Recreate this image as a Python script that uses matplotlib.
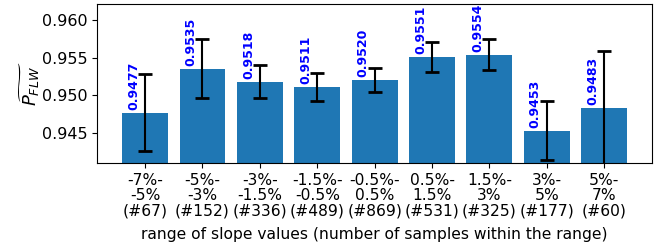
import numpy as np
import matplotlib
matplotlib.use("Agg")
import matplotlib.pyplot as plt

# ranges of slope values and sample counts
ranges = ["-7%-\n-5%", "-5%-\n-3%", "-3%-\n-1.5%", "-1.5%-\n-0.5%", "-0.5%-\n0.5%",
          "0.5%-\n1.5%", "1.5%-\n3%", "3%-\n5%", "5%-\n7%"]
counts = [67, 152, 336, 489, 869, 531, 325, 177, 60]
p_flw = [0.9477, 0.9535, 0.9518, 0.9511, 0.9520, 0.9551, 0.9554, 0.9453, 0.9483]
err = [0.0051, 0.0039, 0.0022, 0.0018, 0.0016, 0.0020, 0.0021, 0.0039, 0.0076]

labels = [r + "\n(#%d)" % c for r, c in zip(ranges, counts)]
x = np.arange(len(p_flw))

fig = plt.figure(figsize=(6.59, 2.46), dpi=100)
ax = fig.add_axes([0.147, 0.336, 0.843, 0.648])

ax.bar(x, p_flw, width=0.8, color="#1f77b4")
ax.errorbar(x, p_flw, yerr=err, fmt="none", ecolor="black", elinewidth=1.5,
            capsize=5, capthick=2)

# value labels above the bars
for i, v in zip(x, p_flw):
    ax.text(i - 0.2, v + 0.0004, "%.4f" % v, rotation=90, ha="center", va="bottom",
            color="blue", fontweight="bold", fontsize=9)

ax.set_ylim(0.941, 0.9621)
ax.set_yticks([0.945, 0.950, 0.955, 0.960])
ax.set_xticks(x)
ax.set_xticklabels(labels, fontsize=11.2, linespacing=1.02)
ax.tick_params(axis="y", labelsize=11.5)
ax.set_ylabel(r"$\widetilde{P_{FLW}}$", fontsize=13, labelpad=0)
ax.set_xlabel("range of slope values (number of samples within the range)", fontsize=11.2,
              labelpad=6)

fig.savefig("out.png", dpi=100)
